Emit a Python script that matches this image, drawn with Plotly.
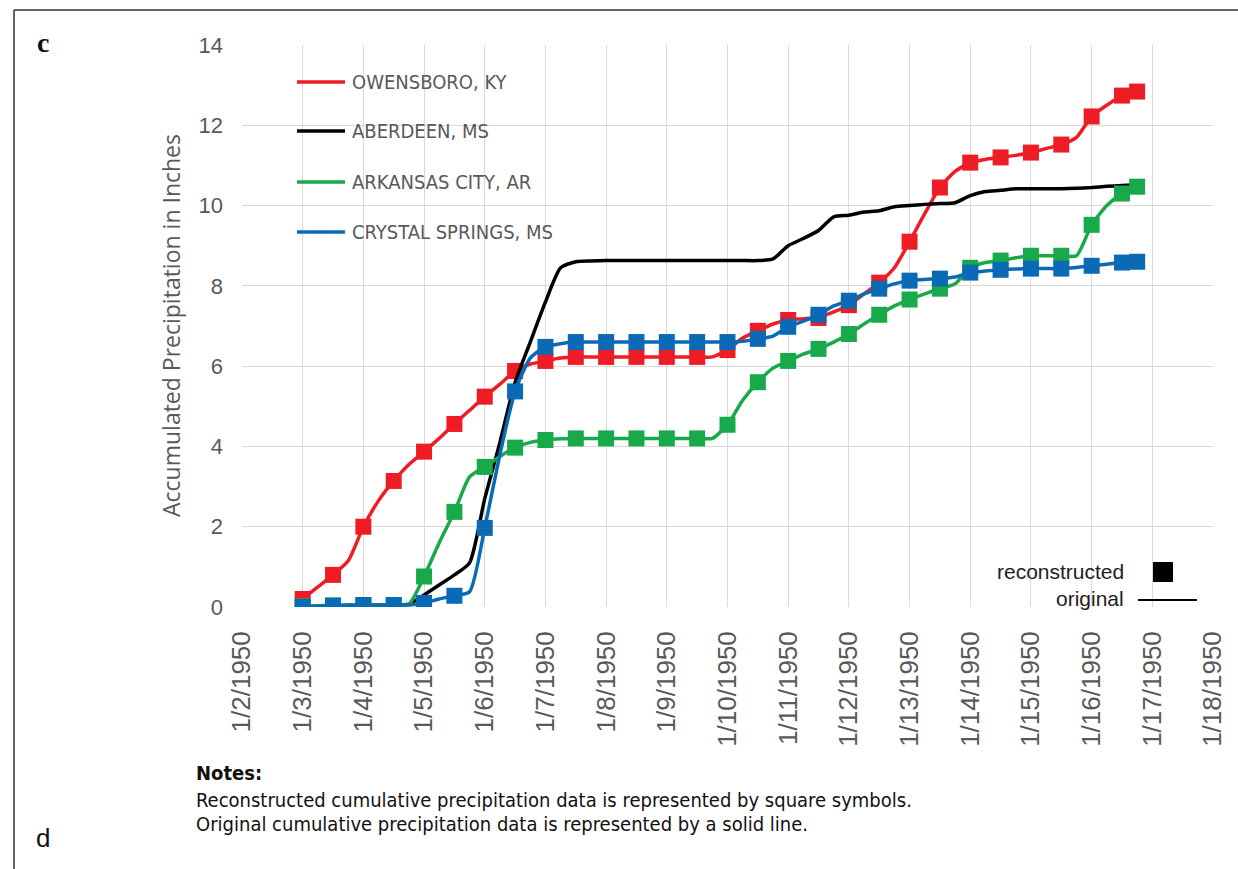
import pandas as pd
import plotly.graph_objects as go

# ---- data -------------------------------------------------------------
# Original gauge record, 6-hourly from 1950-01-03 00:00 to 1950-01-16 18:00
orig_times = pd.date_range("1950-01-03 00:00", "1950-01-16 18:00", freq="6h")

owensboro_orig = [
    0.20, 0.50, 0.80, 1.15, 2.00, 2.65, 3.14, 3.55, 3.87, 4.20,
    4.56, 4.90, 5.24, 5.55, 5.88, 6.05, 6.13, 6.20, 6.23,
    6.23, 6.23, 6.23, 6.23, 6.23, 6.23, 6.23, 6.23, 6.23,
    6.40, 6.70, 6.88, 7.05, 7.15, 7.18, 7.22, 7.35, 7.52, 7.80,
    8.08, 8.45, 9.10, 9.80, 10.45, 10.85, 11.07, 11.15, 11.20, 11.25,
    11.32, 11.42, 11.52, 11.70, 12.22, 12.50, 12.74, 12.84,
]
aberdeen_orig = [
    0.00, 0.00, 0.02, 0.03, 0.03, 0.04, 0.05, 0.07, 0.30, 0.55,
    0.80, 1.10, 2.70, 4.10, 5.60, 6.60, 7.60, 8.45, 8.60, 8.62,
    8.63, 8.63, 8.63, 8.63, 8.63, 8.63, 8.63, 8.63, 8.63, 8.63, 8.63,
    8.67, 9.00, 9.18, 9.38, 9.72, 9.76, 9.84, 9.87, 9.97,
    10.00, 10.03, 10.05, 10.07, 10.25, 10.35, 10.38, 10.42, 10.42, 10.42,
    10.42, 10.43, 10.45, 10.48, 10.50, 10.52,
]
arkansas_orig = [
    0.02, 0.03, 0.04, 0.05, 0.05, 0.05, 0.05, 0.07, 0.76, 1.60,
    2.37, 3.24, 3.49, 3.75, 3.97, 4.10, 4.16, 4.19, 4.20,
    4.20, 4.20, 4.20, 4.20, 4.20, 4.20, 4.20, 4.20, 4.20,
    4.54, 5.15, 5.60, 5.95, 6.13, 6.30, 6.43, 6.60, 6.80, 7.05,
    7.28, 7.50, 7.66, 7.80, 7.93, 8.05, 8.45, 8.58, 8.63, 8.70,
    8.75, 8.75, 8.75, 8.75, 9.52, 10.00, 10.30, 10.47,
]
crystal_orig = [
    0.00, 0.02, 0.03, 0.05, 0.05, 0.05, 0.05, 0.05, 0.10, 0.20,
    0.28, 0.38, 1.97, 3.80, 5.37, 6.20, 6.48, 6.56, 6.60,
    6.60, 6.60, 6.60, 6.60, 6.60, 6.60, 6.60, 6.60, 6.60, 6.60,
    6.62, 6.68, 6.75, 6.98, 7.12, 7.28, 7.50, 7.63, 7.80, 7.93,
    8.05, 8.13, 8.16, 8.18, 8.22, 8.33, 8.37, 8.40, 8.42, 8.43,
    8.43, 8.43, 8.46, 8.50, 8.54, 8.58, 8.60,
]

# Reconstructed series, 12-hourly from 1950-01-03 plus the final 1950-01-16 18:00 value
recon_times = list(pd.date_range("1950-01-03 00:00", "1950-01-16 12:00", freq="12h")) + [
    pd.Timestamp("1950-01-16 18:00")
]
owensboro_recon = [
    0.20, 0.80, 2.00, 3.14, 3.87, 4.56, 5.24, 5.88, 6.13, 6.23,
    6.23, 6.23, 6.23, 6.23, 6.40, 6.88, 7.15, 7.20, 7.52, 8.08,
    9.10, 10.45, 11.07, 11.20, 11.32, 11.52, 12.22, 12.74, 12.84,
]
arkansas_recon = [
    0.02, 0.04, 0.05, 0.05, 0.76, 2.37, 3.49, 3.97, 4.16, 4.20,
    4.20, 4.20, 4.20, 4.20, 4.54, 5.60, 6.13, 6.43, 6.80, 7.28,
    7.66, 7.93, 8.45, 8.63, 8.75, 8.75, 9.52, 10.30, 10.47,
]
crystal_recon = [
    0.00, 0.03, 0.05, 0.05, 0.10, 0.28, 1.97, 5.37, 6.48, 6.60,
    6.60, 6.60, 6.60, 6.60, 6.60, 6.68, 6.98, 7.28, 7.63, 7.93,
    8.13, 8.18, 8.33, 8.40, 8.43, 8.43, 8.50, 8.58, 8.60,
]

station_names = ["OWENSBORO, KY", "ABERDEEN, MS", "ARKANSAS CITY, AR", "CRYSTAL SPRINGS, MS"]
station_colors = ["#EE1C25", "#000000", "#17A94A", "#0A6AB6"]

y_ticks = [0, 2, 4, 6, 8, 10, 12, 14]
x_start, x_end = "1950-01-02", "1950-01-18"

# ---- figure ------------------------------------------------------------
W, H = 1238, 869
L, R, T, B = 242, 25, 45, 262
PW, PH = W - L - R, H - T - B


def px(x):
    return (x - L) / PW


def py(y):
    return (H - B - y) / PH


GRAY = "#595959"
NARROW = "Liberation Sans Narrow, Arial Narrow, DejaVu Sans Condensed, sans-serif"
SANS = "Liberation Sans, Arial, sans-serif"

fig = go.Figure()

series = [
    (owensboro_orig, owensboro_recon),
    (aberdeen_orig, None),
    (arkansas_orig, arkansas_recon),
    (crystal_orig, crystal_recon),
]
for (orig, recon), name, color in zip(series, station_names, station_colors):
    fig.add_trace(go.Scatter(
        x=orig_times, y=orig, mode="lines", name=name,
        line=dict(color=color, width=3.5, shape="spline", smoothing=0.6),
        showlegend=False,
    ))
    if recon is not None:
        fig.add_trace(go.Scatter(
            x=recon_times, y=recon, mode="markers", name=name + " (reconstructed)",
            marker=dict(symbol="square", size=16, color=color, line=dict(width=0)),
            showlegend=False,
        ))

fig.update_layout(
    width=W, height=H,
    margin=dict(l=L, r=R, t=T, b=B, pad=0),
    paper_bgcolor="white", plot_bgcolor="white",
    font=dict(family=SANS, color=GRAY),
    xaxis=dict(
        type="date", range=[x_start, x_end], dtick=86400000, tick0=x_start,
        tickformat="%-m/%-d/%Y", tickangle=-90,
        tickfont=dict(size=26, color=GRAY, family=SANS),
        showgrid=True, gridcolor="#D9D9D9", gridwidth=1,
        showline=False, zeroline=False, ticks="", ticklabelstandoff=18,
    ),
    yaxis=dict(
        range=[0, 14], tickvals=y_ticks,
        tickfont=dict(size=22, color=GRAY, family=SANS),
        showgrid=True, gridcolor="#D9D9D9", gridwidth=1,
        zeroline=False, showline=False, ticks="", ticklabelstandoff=18,
    ),
)

shapes = []
annotations = []

# station key (top-left inside the plot)
key_rows = [82, 131, 182, 232]
for name, color, yy in zip(station_names, station_colors, key_rows):
    shapes.append(dict(type="line", xref="paper", yref="paper",
                       x0=px(297), x1=px(345), y0=py(yy), y1=py(yy),
                       line=dict(color=color, width=3.5)))
    annotations.append(dict(xref="paper", yref="paper", x=px(350), y=py(yy),
                            xanchor="left", yanchor="middle", showarrow=False,
                            text=name, font=dict(family=NARROW, size=20, color=GRAY)))

# symbol key (bottom-right inside the plot)
annotations.append(dict(xref="paper", yref="paper", x=px(1126), y=py(571),
                        xanchor="right", yanchor="middle", showarrow=False,
                        text="reconstructed",
                        font=dict(family=SANS, size=21, color="#222222")))
annotations.append(dict(xref="paper", yref="paper", x=px(1126), y=py(598),
                        xanchor="right", yanchor="middle", showarrow=False,
                        text="original",
                        font=dict(family=SANS, size=21, color="#222222")))
shapes.append(dict(type="rect", xref="paper", yref="paper",
                   x0=px(1153), x1=px(1173), y0=py(582), y1=py(562),
                   fillcolor="black", line=dict(width=0)))
shapes.append(dict(type="line", xref="paper", yref="paper",
                   x0=px(1138), x1=px(1197), y0=py(600), y1=py(600),
                   line=dict(color="black", width=2)))

# y-axis title
annotations.append(dict(xref="paper", yref="paper", x=px(171), y=py(326),
                        xanchor="center", yanchor="middle", showarrow=False, textangle=-90,
                        text="Accumulated Precipitation in Inches",
                        font=dict(family="Open Sans, sans-serif", size=23, color=GRAY)))

# panel letters
annotations.append(dict(xref="paper", yref="paper", x=px(43), y=py(43),
                        xanchor="center", yanchor="middle", showarrow=False, text="<b>c</b>",
                        font=dict(family="Liberation Serif, DejaVu Serif, serif", size=28, color="#111111")))
annotations.append(dict(xref="paper", yref="paper", x=px(43), y=py(838),
                        xanchor="center", yanchor="middle", showarrow=False, text="d",
                        font=dict(family=SANS, size=26, color="#111111")))

# notes under the chart
notes = [
    ("<b>Notes:</b>", 773),
    ("Reconstructed cumulative precipitation data is represented by square symbols.", 800),
    ("Original cumulative precipitation data is represented by a solid line.", 824),
]
for txt, yy in notes:
    annotations.append(dict(xref="paper", yref="paper", x=px(194), y=py(yy),
                            xanchor="left", yanchor="middle", showarrow=False, text=txt,
                            font=dict(family=NARROW, size=20, color="#111111")))

# panel frame (top and left edges)
shapes.append(dict(type="line", xref="paper", yref="paper",
                   x0=px(14), x1=px(1240), y0=py(10), y1=py(10),
                   line=dict(color="#333333", width=1.5)))
shapes.append(dict(type="line", xref="paper", yref="paper",
                   x0=px(14), x1=px(14), y0=py(10), y1=py(875),
                   line=dict(color="#333333", width=1.5)))

fig.update_layout(shapes=shapes, annotations=annotations)

fig.write_html("out.html")
